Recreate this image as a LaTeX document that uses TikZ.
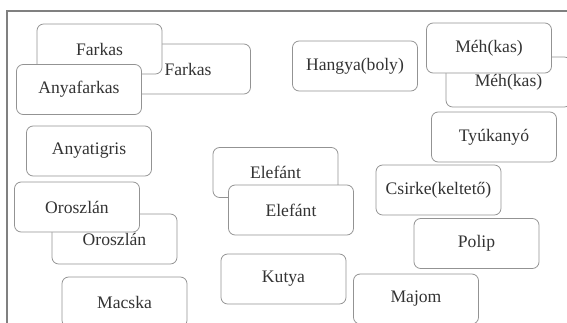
\documentclass[tikz,border=0pt]{standalone}
\usepackage{fontspec}
\setmainfont{Liberation Serif}
\usepackage{tikz}

\begin{document}
\begin{tikzpicture}[x=0.75pt,y=-0.75pt,
        card/.style={draw=gray!85, fill=white, rounded corners=5pt, line width=0.6pt,
            minimum width=93.75pt, minimum height=37.5pt, inner sep=0pt,
            text=black!80, font=\fontsize{13.2}{15}\selectfont}]
        \clip (0,0) rectangle (567,322);
        \draw[gray, line width=1pt] (7,330) -- (7,11) -- (575,11);
        % back cards first, the ones in front after them
        \foreach \n/\x/\y/\t in {farkasB/188/69/Farkas, farkasA/99.5/49/Farkas, anyafarkas/79/89.5/Anyafarkas,
                anyatigris/89/151/Anyatigris, oroszlanB/114.5/239/Oroszlán, oroszlanA/77/207/Oroszlán,
                macska/124.5/302/Macska, elefantB/275.5/172.5/Elefánt, elefantA/291/210/Elefánt,
                kutya/283.5/279/Kutya, hangya/355/66/Hangya(boly), mehB/508.5/82/Méh(kas),
                mehA/489/48/Méh(kas), tyukanyo/494/137/Tyúkanyó, csirke/438.5/190/Csirke(keltető),
                polip/476.5/243.5/Polip, majom/416/299/Majom} {
            \node[card] (\n) at (\x,\y) {\t};
        }
    \end{tikzpicture}
\end{document}
